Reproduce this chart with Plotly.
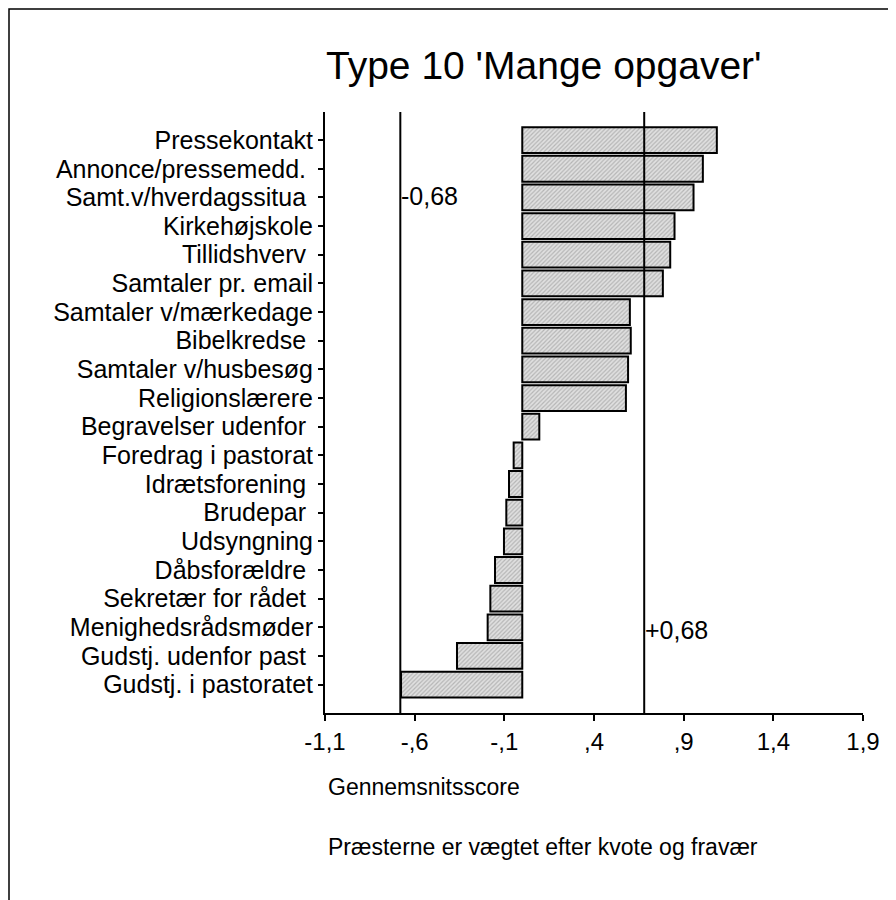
import plotly.graph_objects as go

categories = [
    "Pressekontakt", "Annonce/pressemedd.\u00a0", "Samt.v/hverdagssitua\u00a0", "Kirkehøjskole",
    "Tillidshverv\u00a0", "Samtaler pr. email", "Samtaler v/mærkedage", "Bibelkredse\u00a0",
    "Samtaler v/husbesøg", "Religionslærere", "Begravelser udenfor\u00a0", "Foredrag i pastorat",
    "Idrætsforening\u00a0", "Brudepar\u00a0", "Udsyngning", "Dåbsforældre\u00a0",
    "Sekretær for rådet\u00a0", "Menighedsrådsmøder", "Gudstj. udenfor past\u00a0", "Gudstj. i pastoratet",
]
values = [1.085, 1.007, 0.955, 0.849, 0.825, 0.784, 0.60, 0.605, 0.59, 0.578,
          0.095, -0.048, -0.074, -0.089, -0.102, -0.152, -0.178, -0.193, -0.364, -0.676]

tick_vals = [-1.1, -0.6, -0.1, 0.4, 0.9, 1.4, 1.9]
tick_text = ["-1,1", "-,6", "-,1", ",4", ",9", "1,4", "1,9"]
ref_low, ref_high = -0.68, 0.68
title_text = "Type 10 'Mange opgaver'"
note1 = "Gennemsnitsscore"
note2 = "Præsterne er vægtet efter kvote og fravær"

FONT = "Liberation Sans, Arial, sans-serif"

# page has an 8px body margin; positions below are in figure pixels
OFF = 8
W_FIG, H_FIG = 896 - OFF, 900 - OFF
L, R, T, B = 325 - OFF, 863 - OFF, 112 - OFF, 713 - OFF
PW, PH = R - L, B - T


def px_x(sx):
    return (sx - OFF - L) / PW


def px_y(sy):
    return (B - (sy - OFF)) / PH


fig = go.Figure(go.Bar(
    x=values, y=categories, orientation="h", width=0.9,
    marker=dict(color="#d8d8d8", line=dict(color="black", width=2),
                pattern=dict(shape="/", fgcolor="#8a8a8a", bgcolor="#e0e0e0", size=3, solidity=0.4)),
))

fig.update_layout(
    width=W_FIG, height=H_FIG,
    margin=dict(l=L, r=W_FIG - R, t=T, b=H_FIG - B),
    plot_bgcolor="white", paper_bgcolor="white",
    showlegend=False,
    font=dict(family=FONT, color="black", size=24),
    xaxis=dict(range=[-1.1, 1.9], tickmode="array", tickvals=tick_vals, ticktext=tick_text,
               showgrid=False, zeroline=False, showline=True, linecolor="black", linewidth=2,
               ticks="outside", ticklen=6, tickwidth=2, tickcolor="black",
               tickfont=dict(size=24, family=FONT)),
    yaxis=dict(type="category", categoryorder="array", categoryarray=categories,
               tickmode="array", tickvals=categories, ticktext=categories,
               range=[19.99, -0.98], showgrid=False, zeroline=False, showline=True,
               linecolor="black", linewidth=2, ticks="outside", ticklen=5, tickwidth=1.5,
               tickcolor="black", tickfont=dict(size=25, family=FONT)),
)

# frame around chart
fig.add_shape(type="rect", xref="paper", yref="paper",
              x0=(1 - L) / PW, x1=(W_FIG + 10 - L) / PW,
              y0=(B - (H_FIG + 10)) / PH, y1=(B - 1) / PH,
              line=dict(color="black", width=1.5), fillcolor="rgba(0,0,0,0)", layer="below")

for v in (ref_low, ref_high):
    fig.add_shape(type="line", xref="x", yref="paper", x0=v, x1=v, y0=0, y1=1,
                  line=dict(color="black", width=2), layer="above")

fig.add_annotation(x=ref_low, y=1.95, xref="x", yref="y", text="-0,68", showarrow=False,
                   xanchor="left", yanchor="middle", xshift=-1, font=dict(size=25, family=FONT))
fig.add_annotation(x=ref_high, y=17.1, xref="x", yref="y", text="+0,68", showarrow=False,
                   xanchor="left", yanchor="middle", xshift=-1, font=dict(size=25, family=FONT))

fig.add_annotation(x=px_x(544), y=px_y(65), xref="paper", yref="paper",
                   text=title_text, showarrow=False, xanchor="center", yanchor="middle",
                   font=dict(size=39, family=FONT))
fig.add_annotation(x=px_x(326), y=px_y(787), xref="paper", yref="paper",
                   text=note1, showarrow=False, xanchor="left", yanchor="middle",
                   font=dict(size=23, family=FONT))
fig.add_annotation(x=px_x(326), y=px_y(847), xref="paper", yref="paper",
                   text=note2, showarrow=False, xanchor="left", yanchor="middle",
                   font=dict(size=23, family=FONT))

fig.write_html("out.html")
